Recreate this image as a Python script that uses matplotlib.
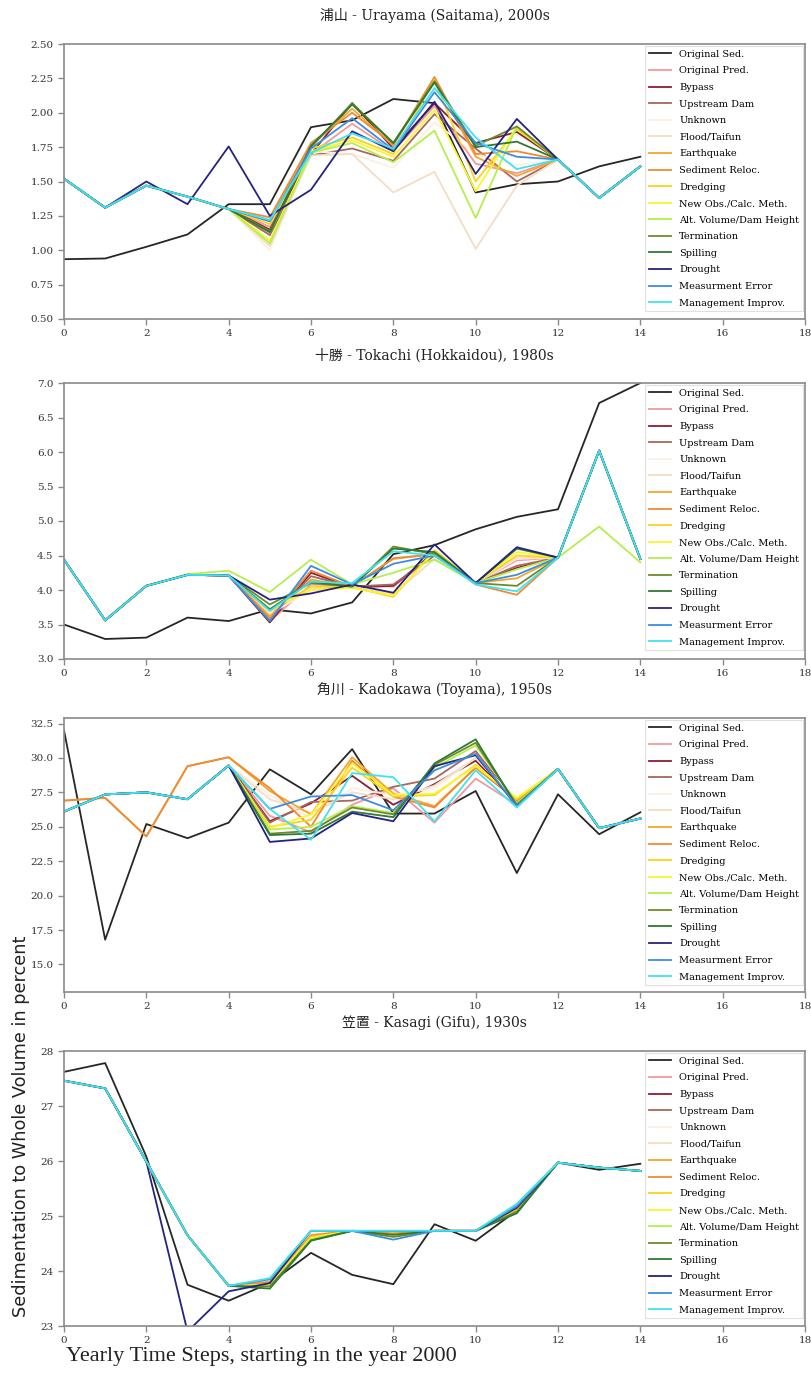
import matplotlib
matplotlib.use("Agg")
import matplotlib.pyplot as plt
from matplotlib.ticker import FormatStrFormatter
import numpy as np

# x axis: yearly steps 0..14
steps = np.arange(15)

labels = ["Original Sed.", "Original Pred.", "Bypass", "Upstream Dam", "Unknown",
          "Flood/Taifun", "Earthquake", "Sediment Reloc.", "Dredging",
          "New Obs./Calc. Meth.", "Alt. Volume/Dam Height", "Termination",
          "Spilling", "Drought", "Measurment Error", "Management Improv."]

titles = ["浦山 - Urayama (Saitama), 2000s",
          "十勝 - Tokachi (Hokkaidou), 1980s",
          "角川 - Kadokawa (Toyama), 1950s",
          "笠置 - Kasagi (Gifu), 1930s"]

# ---- 浦山 ----
urayama_sed = [0.935, 0.94, 1.025, 1.115, 1.335, 1.335, 1.895, 1.945, 2.10, 2.07,
               1.42, 1.48, 1.50, 1.61, 1.68]
urayama_head = [1.52, 1.31, 1.47, 1.39, 1.30]
urayama_tail = [1.66, 1.38, 1.61]
urayama_mid = [  # steps 5..11, one row per prediction series
    [1.17, 1.70, 1.92, 1.72, 2.05, 1.63, 1.56],
    [1.15, 1.70, 2.07, 1.74, 2.07, 1.78, 1.86],
    [1.11, 1.69, 1.74, 1.65, 1.99, 1.74, 1.50],
    [1.00, 1.72, 1.70, 1.60, 1.93, 1.70, 1.62],
    [1.03, 1.69, 1.70, 1.42, 1.57, 1.01, 1.47],
    [1.22, 1.76, 2.03, 1.76, 2.25, 1.68, 1.54],
    [1.24, 1.78, 2.00, 1.77, 2.26, 1.70, 1.72],
    [1.19, 1.74, 1.82, 1.70, 2.24, 1.50, 1.88],
    [1.07, 1.72, 1.80, 1.68, 2.02, 1.43, 1.90],
    [1.05, 1.71, 1.78, 1.64, 1.87, 1.235, 1.90],
    [1.14, 1.75, 2.07, 1.78, 2.23, 1.76, 1.90],
    [1.13, 1.76, 2.06, 1.78, 2.22, 1.75, 1.79],
    [1.25, 1.44, 1.865, 1.72, 2.08, 1.555, 1.955],
    [1.21, 1.74, 1.96, 1.73, 2.15, 1.78, 1.68],
    [1.22, 1.71, 1.85, 1.74, 2.18, 1.82, 1.59],
]
urayama_head_drought = [1.52, 1.31, 1.50, 1.335, 1.755]

# ---- 十勝 ----
tokachi_sed = [3.50, 3.29, 3.31, 3.60, 3.55, 3.72, 3.66, 3.82, 4.52, 4.65,
               4.88, 5.06, 5.17, 6.71, 7.00]
tokachi_head = [4.44, 3.56, 4.06, 4.22, 4.21]
tokachi_tail = [4.47, 6.02, 4.45]
tokachi_mid = [
    [3.55, 4.08, 4.06, 4.05, 4.50, 4.10, 4.43],
    [3.53, 4.25, 4.04, 4.06, 4.55, 4.10, 4.32],
    [3.58, 4.20, 4.05, 4.08, 4.50, 4.10, 4.35],
    [3.65, 4.00, 4.05, 3.93, 4.45, 4.10, 4.45],
    [3.68, 4.02, 4.04, 3.95, 4.45, 4.10, 4.47],
    [3.62, 4.15, 4.06, 4.45, 4.52, 4.10, 4.17],
    [3.58, 4.28, 4.05, 4.46, 4.52, 4.08, 3.93],
    [3.70, 4.05, 4.04, 3.90, 4.58, 4.10, 4.50],
    [3.72, 4.00, 4.03, 3.92, 4.55, 4.10, 4.55],
    [3.97, 4.44, 4.08, 4.25, 4.44, 4.10, 4.30],
    [3.79, 4.10, 4.05, 4.63, 4.52, 4.10, 4.06],
    [3.72, 4.12, 4.05, 4.60, 4.55, 4.10, 4.60],
    [3.86, 3.95, 4.08, 3.96, 4.66, 4.10, 4.62],
    [3.55, 4.35, 4.08, 4.38, 4.50, 4.10, 4.22],
    [3.70, 4.12, 4.10, 4.56, 4.50, 4.08, 3.98],
]
tokachi_head_altvol = [4.44, 3.56, 4.06, 4.23, 4.28]
tokachi_tail_altvol = [4.47, 4.92, 4.40]

# ---- 角川 ----
kadokawa_sed = [32.0, 16.8, 25.2, 24.17, 25.3, 29.17, 27.36, 30.64, 25.96, 25.96,
                27.6, 21.64, 27.36, 24.46, 26.05]
kadokawa_head = [26.1, 27.35, 27.5, 27.0, 29.45]
kadokawa_tail = [29.2, 24.9, 25.6]
kadokawa_mid = [
    [25.8, 24.6, 26.6, 27.8, 25.3, 28.5, 26.6],
    [25.4, 26.7, 28.7, 26.6, 28.1, 29.8, 26.8],
    [25.3, 26.8, 26.9, 27.9, 28.5, 30.5, 26.7],
    [27.3, 25.6, 27.8, 27.3, 27.8, 30.0, 26.9],
    [27.0, 26.0, 27.5, 27.0, 28.0, 30.0, 26.9],
    [27.6, 25.9, 30.05, 27.4, 26.5, 29.3, 27.0],
    [27.8, 25.0, 29.8, 27.2, 26.4, 29.3, 26.9],
    [25.0, 25.5, 29.3, 27.2, 27.3, 29.5, 27.0],
    [24.9, 25.9, 29.6, 27.3, 27.4, 29.4, 27.1],
    [24.8, 25.0, 26.5, 26.0, 29.3, 30.9, 26.7],
    [24.5, 24.7, 26.4, 25.9, 29.5, 31.1, 26.6],
    [24.4, 24.5, 26.1, 25.7, 29.6, 31.35, 26.5],
    [23.9, 24.15, 26.0, 25.4, 29.4, 30.2, 26.5],
    [26.3, 27.2, 27.3, 26.2, 29.1, 30.3, 26.5],
    [26.3, 24.05, 28.9, 28.6, 25.4, 29.1, 26.4],
]
kadokawa_head_orange = [26.9, 27.1, 24.3, 29.4, 30.05]

# ---- 笠置 ----
kasagi_sed = [27.62, 27.78, 26.08, 23.75, 23.46, 23.78, 24.33, 23.93, 23.76, 24.85,
              24.55, 25.10, 25.97, 25.84, 25.95]
kasagi_head = [27.46, 27.32, 25.99, 24.65, 23.73]
kasagi_tail = [25.97, 25.88, 25.82]
kasagi_mid = [
    [23.80, 24.62, 24.73, 24.66, 24.73, 24.73, 25.15],
    [23.78, 24.60, 24.73, 24.68, 24.73, 24.73, 25.12],
    [23.80, 24.62, 24.73, 24.67, 24.73, 24.73, 25.15],
    [23.82, 24.66, 24.73, 24.70, 24.73, 24.73, 25.20],
    [23.82, 24.66, 24.73, 24.70, 24.73, 24.73, 25.20],
    [23.78, 24.65, 24.73, 24.68, 24.73, 24.73, 25.12],
    [23.80, 24.64, 24.73, 24.68, 24.73, 24.73, 25.12],
    [23.76, 24.62, 24.73, 24.66, 24.73, 24.73, 25.10],
    [23.74, 24.60, 24.73, 24.65, 24.73, 24.73, 25.15],
    [23.72, 24.58, 24.73, 24.64, 24.73, 24.73, 25.22],
    [23.72, 24.56, 24.73, 24.62, 24.73, 24.73, 25.08],
    [23.68, 24.55, 24.73, 24.66, 24.73, 24.73, 25.05],
    [23.78, 24.73, 24.73, 24.73, 24.73, 24.73, 25.15],
    [23.85, 24.73, 24.73, 24.57, 24.73, 24.73, 25.18],
    [23.87, 24.73, 24.73, 24.73, 24.73, 24.73, 25.22],
]
kasagi_head_drought = [27.46, 27.32, 25.99, 22.90, 23.63]

colors = ["#262626", "#f3979f", "#8a1f30", "#a8665e", "#fbefe3", "#f6dcc2",
          "#f3a62a", "#f08a35", "#fbd21e", "#fbf52c", "#b5ef4a", "#6f8a2a",
          "#2f7a34", "#25237f", "#3b8de3", "#3fe3ef"]


def build(head, mid, tail, head_over=None, tail_over=None):
    rows = []
    for i, m in enumerate(mid):
        h = head_over.get(i, head) if head_over else head
        t = tail_over.get(i, tail) if tail_over else tail
        rows.append(list(h) + list(m) + list(t))
    return rows


# prediction series index (0 = Original Pred. ... 14 = Management Improv.)
panels = [
    (urayama_sed, build(urayama_head, urayama_mid, urayama_tail,
                        {12: urayama_head_drought}),
     (0.5, 2.5), np.arange(0.5, 2.51, 0.25), "%.2f"),
    (tokachi_sed, build(tokachi_head, tokachi_mid, tokachi_tail,
                        {9: tokachi_head_altvol}, {9: tokachi_tail_altvol}),
     (3.0, 7.0), np.arange(3.0, 7.01, 0.5), "%.1f"),
    (kadokawa_sed, build(kadokawa_head, kadokawa_mid, kadokawa_tail,
                         {5: kadokawa_head_orange, 6: kadokawa_head_orange}),
     (13.0, 32.9), np.arange(15.0, 32.51, 2.5), "%.1f"),
    (kasagi_sed, build(kasagi_head, kasagi_mid, kasagi_tail,
                       {12: kasagi_head_drought}),
     (23.0, 28.0), np.arange(23, 28.1, 1), "%d"),
]

W, H = 811, 1373
fig = plt.figure(figsize=(W / 100, H / 100), dpi=100)
fig.patch.set_facecolor("white")

# axes top/bottom in pixels
boxes = [(44, 319), (383, 659), (718, 992), (1051, 1326)]
left_px, right_px = 64, 805

for (sed, preds, ylim, yticks, fmt), (top, bot), title in zip(panels, boxes, titles):
    ax = fig.add_axes([left_px / W, 1 - bot / H, (right_px - left_px) / W, (bot - top) / H])
    ax.plot(steps, sed, color=colors[0], lw=1.3, label=labels[0])
    for i, row in enumerate(preds):
        ax.plot(steps, row, color=colors[i + 1], lw=1.3, label=labels[i + 1])
    ax.set_xlim(0, 18)
    ax.set_ylim(*ylim)
    ax.set_xticks(range(0, 19, 2))
    ax.set_yticks(yticks)
    ax.yaxis.set_major_formatter(FormatStrFormatter(fmt))
    for s in ax.spines.values():
        s.set_color("#8a8a8a")
        s.set_linewidth(1.2)
    ax.tick_params(colors="#8a8a8a", labelcolor="#333333", length=4, width=1,
                   labelsize=7.5)
    for lab in ax.get_xticklabels() + ax.get_yticklabels():
        lab.set_family("DejaVu Serif")
    ax.set_title(title, family=["DejaVu Serif", "Noto Sans CJK JP"], fontsize=10,
                 color="#222222", pad=17)
    leg = ax.legend(loc="upper right", prop={"family": "DejaVu Serif", "size": 7},
                    labelspacing=0.78, handlelength=2.3, handletextpad=0.8,
                    borderaxespad=0.2, framealpha=0.9, fancybox=False)
    leg.get_frame().set_edgecolor("#dddddd")
    leg.get_frame().set_linewidth(0.8)

fig.text(21 / W, 1 - 1126 / H, "Sedimentation to Whole Volume in percent",
         rotation=90, ha="center", va="center", fontsize=12.8, family="DejaVu Sans",
         color="#222222")
fig.text(66 / W, 1 - 1357 / H, "Yearly Time Steps, starting in the year 2000",
         ha="left", va="center", fontsize=16, family="Liberation Serif",
         color="#222222")

fig.savefig("out.png", dpi=100)
